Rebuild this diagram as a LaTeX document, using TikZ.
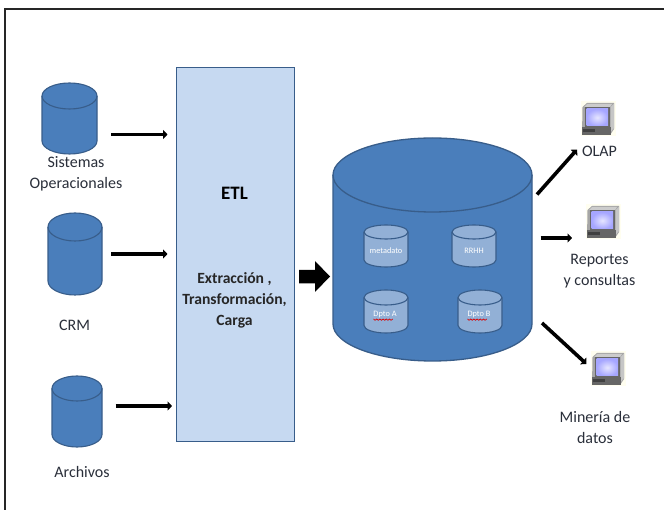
\documentclass[tikz,border=0pt]{standalone}
\usepackage{fontspec}
\setmainfont{Carlito}
\usetikzlibrary{arrows.meta}
\definecolor{cylblue}{HTML}{4A7EBB}
\definecolor{cyledge}{HTML}{385D8A}
\definecolor{innerfill}{HTML}{92B0D6}
\definecolor{etlfill}{HTML}{C6D9F1}
\definecolor{labelcol}{HTML}{2A2F3A}
\tikzset{
  flow/.style={line width=3.6pt,draw=black,-{Triangle[length=4.5pt,width=9pt]}},
  lab/.style={font=\fontsize{16}{21}\selectfont,text=labelcol,align=center,inner sep=0pt},
  innerlab/.style={font=\fontsize{8.3}{9}\selectfont,text=white,inner sep=0pt},
  squiggle/.style={red!85!black,line width=.7pt},
}
% name, left, right, top, bottom, ry, fill, edge width
\newcommand{\drum}[8]{%
  \path[fill=#7,draw=cyledge,line width=#8]
    (#2,#4+#6) -- (#2,#5-#6)
    .. controls (#2,#5-0.448*#6) and ({#2+0.224*(#3-#2)},#5) .. ({(#2+#3)/2},#5)
    .. controls ({#3-0.224*(#3-#2)},#5) and (#3,#5-0.448*#6) .. (#3,#5-#6)
    -- (#3,#4+#6)
    .. controls (#3,#4+0.448*#6) and ({#3-0.224*(#3-#2)},#4) .. ({(#2+#3)/2},#4)
    .. controls ({#2+0.224*(#3-#2)},#4) and (#2,#4+0.448*#6) .. (#2,#4+#6) -- cycle;
  \path[draw=cyledge,line width=#8]
    (#2,#4+#6)
    .. controls (#2,#4+1.552*#6) and ({#2+0.224*(#3-#2)},#4+2*#6) .. ({(#2+#3)/2},#4+2*#6)
    .. controls ({#3-0.224*(#3-#2)},#4+2*#6) and (#3,#4+1.552*#6) .. (#3,#4+#6);
}
% name, left, top
\newcommand{\terminal}[3]{%
  \begin{scope}[shift={(#2,#3)}]
    \fill[yellow!6!white] (0,0) rectangle (35,35);
    \fill[gray!70!white] (1.5,6) -- (6,2) -- (33,2) -- (33,28) -- (29,34) -- (1,34) -- cycle;
    \fill[gray!40!white] (6,3) -- (31,3) -- (29,6) -- (3,6) -- cycle;
    \fill[gray!45] (29.5,6) -- (33,2.5) -- (33,27) -- (29.5,31) -- cycle;
    \fill[black!60] (3.5,6) rectangle (29,26.5);
    \shade[inner color=blue!10!white,outer color=blue!35!white] (5.5,8) rectangle (27,25);
    \fill[gray!80!black] (1,26.5) -- (29.5,26.5) -- (29.5,34) -- (1,34) -- cycle;
    \fill[black!75] (2,28.5) -- (14,28.5) -- (14,31) -- (2,31) -- cycle;
  \end{scope}
  \coordinate (#1) at (#2+17.5,#3+17.5);
}
\begin{document}
\begin{tikzpicture}[x=1pt,y=-1pt]
\useasboundingbox (0,0) rectangle (664,510);
\fill[white] (0,0) rectangle (664,510);
\draw[line width=1.1pt,draw=black!85] (5,512) -- (5,9) -- (666,9);

% sources
\drum{sis}{42}{97}{83}{154}{13}{cylblue}{1.1pt}
\drum{crm}{48}{102}{213}{295}{14}{cylblue}{1.1pt}
\drum{arc}{52}{102}{376}{447}{12.5}{cylblue}{1.1pt}
\node[lab] (sistxt) at (76,173.5) {Sistemas\\Operacionales};
\node[lab] (crmtxt) at (74.5,325.5) {CRM};
\node[lab] (arctxt) at (82,472.5) {Archivos};

% ETL
\node[draw=cyledge,fill=etlfill,line width=1.1pt,minimum width=118pt,minimum height=374pt,inner sep=0pt] (etl) at (235.5,254.5) {};
\node[font=\fontsize{19}{20}\selectfont\bfseries,text=black,inner sep=0pt] (etltit) at (234.5,193) {ETL};
\node[font=\fontsize{15.6}{21}\selectfont\bfseries,text=black!85,align=center,inner sep=0pt] (etlsub) at (234.5,300) {Extracción ,\\Transformación,\\Carga};

% warehouse
\drum{dw}{333}{532}{138}{361}{37}{cylblue}{1.3pt}
\drum{meta}{364}{408}{225}{267}{7}{innerfill}{1.1pt}
\drum{rrhh}{452}{496}{225}{267}{7}{innerfill}{1.1pt}
\drum{da}{364}{408}{290}{333}{7.5}{innerfill}{1.1pt}
\drum{db}{458}{502}{290}{333}{7.5}{innerfill}{1.1pt}
\node[innerlab] (metatxt) at (386,250.5) {metadato};
\node[innerlab] (rrhhtxt) at (474,250.5) {RRHH};
\node[innerlab] (datxt) at (385,315) {Dpto A};
\node[innerlab] (dbtxt) at (479,315) {Dpto B};
\draw[squiggle] (373.5,319) foreach \i in {1,...,12} {-- ++(1.6,{(mod(\i,2)*2-1)*1.3})};
\draw[squiggle] (467.5,319) foreach \i in {1,...,12} {-- ++(1.6,{(mod(\i,2)*2-1)*1.3})};

% terminals
\terminal{olap}{581}{101}
\terminal{rep}{586}{204}
\terminal{min}{591}{351}
\node[lab] (olaptxt) at (599.5,151) {OLAP};
\node[lab] (reptxt) at (599.5,271.5) {Reportes\\y consultas};
\node[lab] (mintxt) at (595,428) {Minería de\\datos};

% flows
\coordinate (f1) at (111,134.5);
\coordinate (f1e) at (167.5,134.5);
\coordinate (f2) at (111,254);
\coordinate (f2e) at (167.5,254);
\coordinate (f3) at (115.5,406);
\coordinate (f3e) at (172,406);
\draw[flow] (f1) -- (f1e);
\draw[flow] (f2) -- (f2e);
\draw[flow] (f3) -- (f3e);
\fill[black] (299,270) -- (315,270) -- (315,261) -- (330,276.5) -- (315,292) -- (315,283.5) -- (299,283.5) -- cycle;
\coordinate (o1) at (537,194.5);
\coordinate (o2) at (577,149.5);
\coordinate (r1) at (540.5,238);
\coordinate (r2) at (572,238);
\coordinate (m1) at (542,323);
\coordinate (m2) at (586.5,364);
\draw[flow] (o1) -- (o2);
\draw[flow] (r1) -- (r2);
\draw[flow] (m1) -- (m2);
\end{tikzpicture}
\end{document}
